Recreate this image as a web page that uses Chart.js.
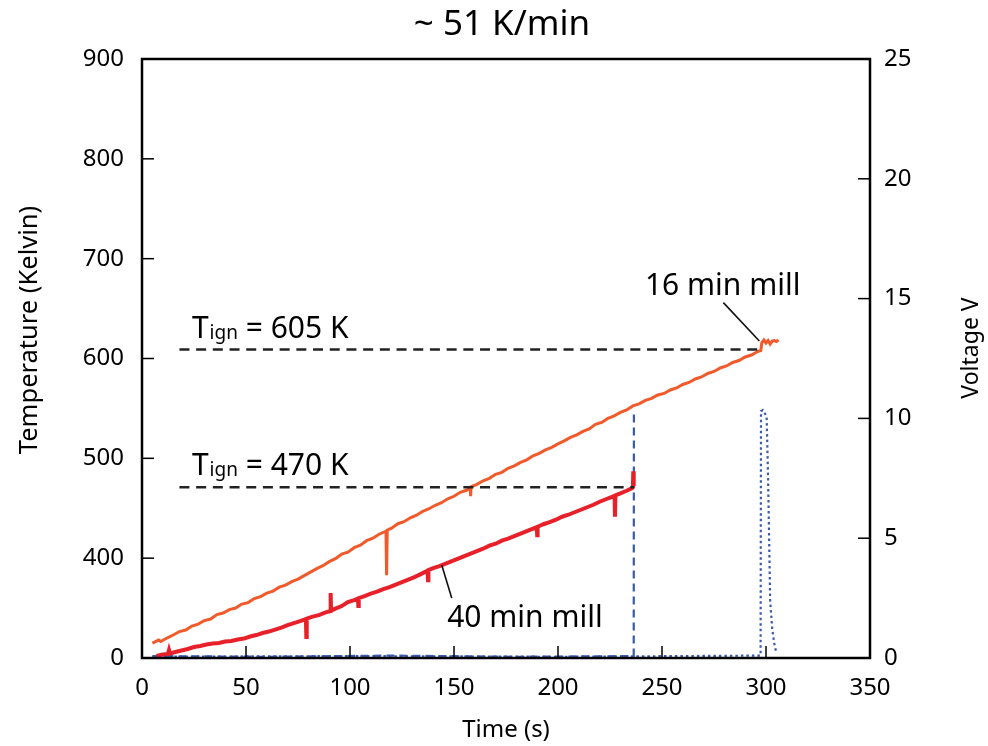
<!DOCTYPE html>
<html>
<head>
<meta charset="utf-8">
<title>~ 51 K/min</title>
<script src="https://cdn.jsdelivr.net/npm/chart.js@4.4.0/dist/chart.umd.min.js"></script>
<style>
  html, body { margin: 0; padding: 0; background: #ffffff; }
  #wrap { width: 988px; height: 746px; }
</style>
</head>
<body>
<div id="wrap"><canvas id="chart" width="988" height="746"></canvas></div>
<script>
// Heating at ~51 K/min: temperature traces (left axis) and ignition voltage (right axis)

// 16 min mill - temperature (K) vs time (s)
const mill16Time = [5, 8, 9, 12, 15, 18, 21, 24, 27, 30, 33, 36, 39, 42, 45, 48, 51, 54, 57, 60,
  63, 66, 69, 72, 75, 78, 81, 84, 87, 90, 93, 96, 99, 102, 105, 108, 111, 114, 117.3, 117.6,
  117.9, 120, 123, 126, 129, 132, 135, 138, 141, 144, 147, 150, 153, 156, 157.8, 158, 158.2, 161, 164, 167,
  170, 173, 176, 179, 182, 185, 188, 191, 194, 197, 200, 203, 206, 209, 212, 215, 218, 221, 224, 227,
  230, 233, 236, 239, 242, 245, 248, 251, 254, 257, 260, 263, 266, 269, 272, 275, 278, 281, 284, 287,
  290, 293, 296, 297.5, 298, 299, 300, 301, 302, 303, 304, 305, 306];
const mill16Temp = [315, 318, 316.5, 320, 323, 326.5, 328, 332, 334, 337.5, 339, 343.5, 345, 348.5, 350, 354, 355.5, 359.5, 361.5, 365,
  367, 371, 373, 376.5, 379, 382.5, 386, 389.5, 392.5, 396.5, 399.5, 404, 406, 410.5, 413, 417.5, 420, 424, 427, 383,
  428, 430, 434.5, 436.5, 440.5, 443, 447, 449.5, 453, 455.5, 459.5, 462, 466, 468, 470.5, 462, 471.5, 474, 477.5, 480,
  484, 486, 490, 492.5, 496, 498.5, 502.5, 505, 508.5, 511, 514.5, 517.5, 521, 523.5, 527, 529.5, 534, 536, 540, 542.5,
  546, 548.5, 552.5, 554.5, 558, 560, 563.5, 565, 568.5, 570.5, 574, 576, 579.5, 581.5, 585, 587, 590.5, 592.5, 596, 598,
  601.5, 603.5, 607, 608, 616, 618.5, 615.5, 618, 614.5, 617.5, 618, 617, 618.5];

// 40 min mill - temperature (K) vs time (s)
const mill40Time = [7, 10, 12.5, 13, 13.5, 16, 19, 22, 25, 28, 31, 34, 37, 40, 43, 46, 49, 52, 55, 58,
  61, 64, 67, 70, 73, 76, 78.8, 79, 79.2, 82, 85, 88, 90.5, 90.7, 90.9, 93, 96, 99, 102, 103.8,
  104, 104.2, 107, 110, 113, 116, 119, 122, 125, 128, 131, 134, 137.3, 137.5, 137.7, 140, 143, 146, 149, 152,
  155, 158, 161, 164, 167, 170, 173, 176, 179, 182, 185, 188, 189.8, 190, 190.2, 193, 196, 199, 202, 205,
  208, 211, 214, 217, 220, 223, 226, 227.2, 227.4, 227.6, 230, 233, 235.5, 236, 236.2, 236.4];
const mill40Temp = [302, 303.5, 304, 308, 304.5, 306, 307.5, 309, 311, 312, 313.5, 314.5, 315, 316.5, 317, 318.5, 319.5, 321.5, 323, 325,
  326.5, 328.5, 330.5, 333, 335, 337, 339, 321, 339.5, 341.5, 343, 345.5, 347, 365, 347.5, 349.5, 352, 356, 358, 359.5,
  352, 360, 362, 364.5, 366.5, 369, 371, 373.5, 376, 378.5, 381, 384, 387.5, 378, 388, 390, 392, 394.5, 397, 399.5,
  402, 404.5, 407, 409.5, 412.5, 414.5, 417.5, 419.5, 422, 424.5, 427, 429.5, 431, 423, 431.5, 434, 436, 438.5, 441.5, 443.5,
  446, 448.5, 451, 453.5, 456.5, 459, 461.5, 462.5, 441.5, 463, 465, 467.5, 470, 471, 487, 472];

// Voltage (V) traces
const volt40Time = [5, 60, 120, 180, 236.4, 236.5];
const volt40Val = [0.08, 0.05, 0.1, 0.05, 0.08, 10.3];
const volt16Time = [5, 100, 200, 297.4, 297.6, 298.5, 299.5, 300.3, 301, 301.5, 302, 303, 304, 305];
const volt16Val = [0.05, 0.08, 0.05, 0.1, 10.3, 10.35, 10.2, 10.1, 7.5, 5, 2.4, 1.2, 0.6, 0.2];

// Ignition temperature markers
const ign16Time = [18, 297];
const ign16Temp = [609, 609];
const ign40Time = [18, 236.5];
const ign40Temp = [471, 471];

// Axes
const timeTicks = [0, 50, 100, 150, 200, 250, 300, 350];
const tempTicks = [300, 400, 500, 600, 700, 800, 900];
const tempTickLabels = ['0', '400', '500', '600', '700', '800', '900'];
const voltTicks = [0, 5, 10, 15, 20, 25];

const FONT = "'Noto Sans', 'DejaVu Sans', sans-serif";
const ORANGE = '#f15a2b';
const RED = '#e8202a';
const BLUE = '#3b5aa8';

function pairs(xs, ys) {
  return xs.map((x, i) => ({ x: x, y: ys[i] }));
}

// Frame, inward ticks, axis titles and annotations
const notesPlugin = {
  id: 'notes',
  afterDatasetsDraw(chart) {
    const ctx = chart.ctx;
    const a = chart.chartArea;
    const sx = chart.scales.x, sy = chart.scales.y, sy2 = chart.scales.y2;

    function seg(x1, y1, x2, y2) {
      ctx.beginPath();
      ctx.moveTo(x1, y1);
      ctx.lineTo(x2, y2);
      ctx.stroke();
    }

    ctx.save();
    ctx.strokeStyle = '#000';
    ctx.lineWidth = 1.5;
    timeTicks.slice(1, -1).forEach(v => {
      const px = sx.getPixelForValue(v);
      seg(px, a.bottom, px, a.bottom - 12);
    });
    tempTicks.slice(1, -1).forEach(v => {
      const py = sy.getPixelForValue(v);
      seg(a.left, py, a.left + 12, py);
    });
    voltTicks.slice(1, -1).forEach(v => {
      const py = sy2.getPixelForValue(v);
      seg(a.right, py, a.right - 12, py);
    });

    ctx.lineWidth = 2.5;
    ctx.strokeRect(a.left, a.top, a.right - a.left, a.bottom - a.top);

    // leader lines
    ctx.lineWidth = 1.6;
    ctx.strokeStyle = '#111';
    seg(sx.getPixelForValue(279.5), sy.getPixelForValue(656), sx.getPixelForValue(296.8), sy.getPixelForValue(617.6));
    seg(sx.getPixelForValue(144.1), sy.getPixelForValue(393.2), sx.getPixelForValue(148.9), sy.getPixelForValue(360.1));

    ctx.fillStyle = '#000';
    ctx.textBaseline = 'alphabetic';

    // T_ign labels
    function tign(value, tempLevel) {
      let px = sx.getPixelForValue(24);
      const py = sy.getPixelForValue(tempLevel) - 12;
      ctx.textAlign = 'left';
      ctx.font = '30px ' + FONT;
      ctx.fillText('T', px, py);
      px += ctx.measureText('T').width + 1;
      ctx.font = '19px ' + FONT;
      ctx.fillText('ign', px, py + 1);
      px += ctx.measureText('ign').width;
      ctx.font = '30px ' + FONT;
      ctx.fillText(' = ' + value + ' K', px, py);
    }
    tign(605, ign16Temp[0]);
    tign(470, ign40Temp[0]);

    ctx.font = '30px ' + FONT;
    ctx.textAlign = 'left';
    ctx.fillText('16 min mill', sx.getPixelForValue(241.8), 295);
    ctx.fillText('40 min mill', sx.getPixelForValue(146.7), 627);

    // title
    ctx.textAlign = 'center';
    ctx.font = '35px ' + FONT;
    ctx.fillText('~ 51 K/min', 502, 35);

    // axis titles
    ctx.font = '24px ' + FONT;
    ctx.fillText('Time (s)', 506, 737);

    ctx.save();
    ctx.translate(37, 330);
    ctx.rotate(-Math.PI / 2);
    ctx.font = '25.5px ' + FONT;
    ctx.fillText('Temperature (Kelvin)', 0, 0);
    ctx.restore();

    ctx.save();
    ctx.translate(978, 348);
    ctx.rotate(-Math.PI / 2);
    ctx.font = '23px ' + FONT;
    ctx.fillText('Voltage V', 0, 0);
    ctx.restore();

    ctx.restore();
  }
};

const tickFont = { family: FONT, size: 24 };

new Chart(document.getElementById('chart'), {
  type: 'line',
  data: {
    datasets: [
      {
        label: 'T ign 605',
        data: pairs(ign16Time, ign16Temp),
        yAxisID: 'y',
        borderColor: '#222',
        borderWidth: 2.5,
        borderDash: [10, 6.7],
        pointRadius: 0
      },
      {
        label: 'T ign 470',
        data: pairs(ign40Time, ign40Temp),
        yAxisID: 'y',
        borderColor: '#222',
        borderWidth: 2.5,
        borderDash: [10, 6.7],
        pointRadius: 0
      },
      {
        label: '40 min mill',
        data: pairs(mill40Time, mill40Temp),
        yAxisID: 'y',
        borderColor: RED,
        borderWidth: 4,
        pointRadius: 0
      },
      {
        label: '16 min mill',
        data: pairs(mill16Time, mill16Temp),
        yAxisID: 'y',
        borderColor: ORANGE,
        borderWidth: 3,
        pointRadius: 0
      },
      {
        label: 'Voltage 40 min',
        data: pairs(volt40Time, volt40Val),
        yAxisID: 'y2',
        borderColor: BLUE,
        borderWidth: 2.2,
        borderDash: [8, 5],
        pointRadius: 0
      },
      {
        label: 'Voltage 16 min',
        data: pairs(volt16Time, volt16Val),
        yAxisID: 'y2',
        borderColor: BLUE,
        borderWidth: 2.2,
        borderDash: [2.5, 3],
        pointRadius: 0
      }
    ]
  },
  options: {
    responsive: false,
    animation: false,
    layout: { padding: { top: 59, right: 0, bottom: 0, left: 0 } },
    plugins: {
      legend: { display: false },
      tooltip: { enabled: false }
    },
    elements: { line: { tension: 0, fill: false } },
    scales: {
      x: {
        type: 'linear',
        position: 'bottom',
        min: 0,
        max: 350,
        afterBuildTicks: (scale) => { scale.ticks = timeTicks.map(v => ({ value: v })); },
        afterFit: (scale) => { scale.height = 88; },
        grid: { display: false, drawTicks: false },
        border: { display: false },
        ticks: { color: '#000', font: tickFont, padding: 16, maxRotation: 0 }
      },
      y: {
        type: 'linear',
        position: 'left',
        min: 300,
        max: 900,
        afterBuildTicks: (scale) => { scale.ticks = tempTicks.map(v => ({ value: v })); },
        afterFit: (scale) => { scale.width = 142; },
        grid: { display: false, drawTicks: false },
        border: { display: false },
        ticks: {
          color: '#000',
          font: tickFont,
          padding: 18,
          callback: (value) => tempTickLabels[tempTicks.indexOf(value)]
        }
      },
      y2: {
        type: 'linear',
        position: 'right',
        min: 0,
        max: 25,
        afterBuildTicks: (scale) => { scale.ticks = voltTicks.map(v => ({ value: v })); },
        afterFit: (scale) => { scale.width = 118; },
        grid: { display: false, drawTicks: false },
        border: { display: false },
        ticks: { color: '#000', font: tickFont, padding: 14 }
      }
    }
  },
  plugins: [notesPlugin]
});
</script>
</body>
</html>
